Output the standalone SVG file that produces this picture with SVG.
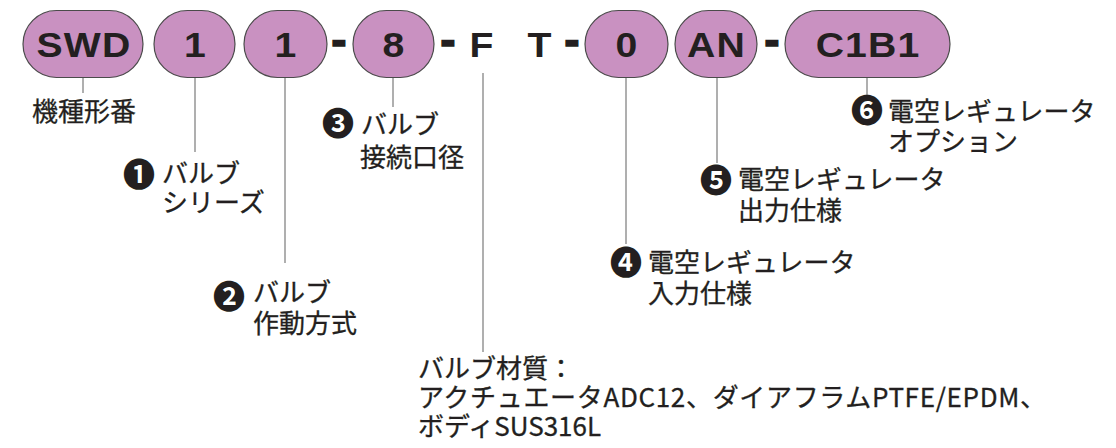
<svg xmlns="http://www.w3.org/2000/svg" width="1116" height="448" viewBox="0 0 1116 448">
<style>
.pill{fill:#c991c1;stroke:#4b4b4b;stroke-width:1.2}
.code{font-family:"Liberation Sans",Arial,sans-serif;font-weight:bold;font-size:35px;fill:#231f20;text-anchor:middle;letter-spacing:1px}
.dash{font-family:"Liberation Sans",Arial,sans-serif;font-weight:bold;font-size:46px;fill:#231f20;stroke:#231f20;stroke-width:1.4;text-anchor:middle}
.lbl{font-family:"Noto Sans CJK JP","Noto Sans CJK SC",sans-serif;font-weight:400;font-size:26px;fill:#231f20;stroke:#231f20;stroke-width:0.3}
.num{font-family:"Noto Sans CJK JP","Noto Sans CJK SC",sans-serif;font-weight:700;font-size:32px;fill:#231f20;text-anchor:middle}
.conn line{stroke:#9b9b9b;stroke-width:1.6}
</style>
<rect width="1116" height="448" fill="#ffffff"/>
<g id="connectors" class="conn">
<line x1="83" y1="77" x2="83" y2="93"/>
<line x1="195" y1="77" x2="195" y2="152"/>
<line x1="285" y1="77" x2="285" y2="263"/>
<line x1="393" y1="77" x2="393" y2="107"/>
<line x1="483" y1="73" x2="483" y2="352"/>
<line x1="626" y1="77" x2="626" y2="244"/>
<line x1="717" y1="77" x2="717" y2="163"/>
<line x1="867" y1="77" x2="867" y2="96"/>
</g>
<g id="node-swd"><rect class="pill" x="23" y="10.5" width="120" height="67" rx="33.5"/><text class="code" transform="translate(84,57) scale(1.12,1)">SWD</text></g>
<g id="node-1a"><rect class="pill" x="154" y="10.5" width="81" height="67" rx="33.5"/><text class="code" transform="translate(195.5,57) scale(1.12,1)">1</text></g>
<g id="node-1b"><rect class="pill" x="244" y="10.5" width="83" height="67" rx="33.5"/><text class="code" transform="translate(286,57) scale(1.12,1)">1</text></g>
<g id="dash1"><text class="dash" x="339" y="55">-</text></g>
<g id="node-8"><rect class="pill" x="353" y="10.5" width="81" height="67" rx="33.5"/><text class="code" transform="translate(394,57) scale(1.12,1)">8</text></g>
<g id="dash2"><text class="dash" x="448" y="55">-</text></g>
<g id="node-f"><text class="code" transform="translate(482,57) scale(1.12,1)">F</text></g>
<g id="node-t"><text class="code" transform="translate(540,57) scale(1.12,1)">T</text></g>
<g id="dash3"><text class="dash" x="572" y="55">-</text></g>
<g id="node-0"><rect class="pill" x="585" y="10.5" width="83" height="67" rx="33.5"/><text class="code" transform="translate(627,57) scale(1.12,1)">0</text></g>
<g id="node-an"><rect class="pill" x="675" y="10.5" width="82" height="67" rx="33.5"/><text class="code" transform="translate(716.5,57) scale(1.12,1)">AN</text></g>
<g id="dash4"><text class="dash" x="772" y="55">-</text></g>
<g id="node-c1b1"><rect class="pill" x="785" y="10.5" width="165" height="67" rx="33.5"/><text class="code" transform="translate(868,57) scale(1.12,1)">C1B1</text></g>
<g id="label-model"><text class="lbl" x="32" y="121">機種形番</text></g>
<g id="label-1"><text class="num" x="139" y="186">❶</text><text class="lbl" x="162" y="183">バルブ</text><text class="lbl" x="162" y="212">シリーズ</text></g>
<g id="label-2"><text class="num" x="229" y="308">❷</text><text class="lbl" x="253" y="302">バルブ</text><text class="lbl" x="253" y="333">作動方式</text></g>
<g id="label-3"><text class="num" x="338" y="135">❸</text><text class="lbl" x="361" y="134">バルブ</text><text class="lbl" x="360" y="167">接続口径</text></g>
<g id="label-4"><text class="num" x="626" y="274">❹</text><text class="lbl" x="648" y="272">電空レギュレータ</text><text class="lbl" x="648" y="303">入力仕様</text></g>
<g id="label-5"><text class="num" x="716" y="192">❺</text><text class="lbl" x="738" y="189">電空レギュレータ</text><text class="lbl" x="738" y="220">出力仕様</text></g>
<g id="label-6"><text class="num" x="867" y="122">❻</text><text class="lbl" x="888" y="121">電空レギュレータ</text><text class="lbl" x="888" y="151">オプション</text></g>
<g id="label-material"><text class="lbl" x="418" y="378">バルブ材質：</text><text class="lbl" x="418" y="407" textLength="628" lengthAdjust="spacing">アクチュエータADC12、ダイアフラムPTFE/EPDM、</text><text class="lbl" x="418" y="436">ボディSUS316L</text></g>
</svg>
